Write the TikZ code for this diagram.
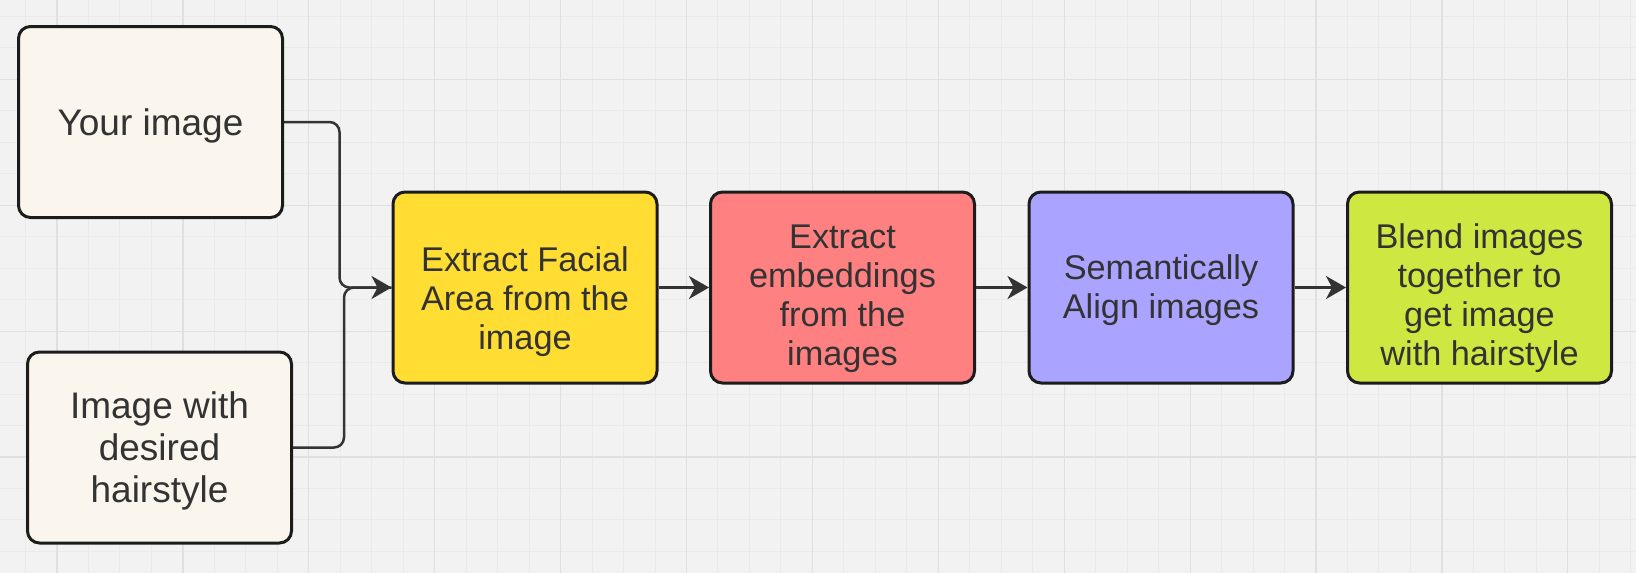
\documentclass[tikz,border=0pt]{standalone}
\usepackage{fontspec}
\setmainfont{Liberation Sans}
\usetikzlibrary{arrows.meta}

\definecolor{paper}{HTML}{F2F2F2}
\definecolor{gridminor}{HTML}{EAEAEA}
\definecolor{gridmajor}{HTML}{E0E0E0}
\definecolor{cream}{HTML}{FAF6EE}
\definecolor{sun}{HTML}{FFDD33}
\definecolor{salmon}{HTML}{FF8080}
\definecolor{lilac}{HTML}{AAA3FF}
\definecolor{lime}{HTML}{CEE741}
\definecolor{ink}{HTML}{333333}
\definecolor{rim}{HTML}{1C1C1C}

\tikzset{
  box/.style={draw=rim, line width=3pt, rounded corners=12pt,
    minimum width=264pt, minimum height=191pt, inner sep=0pt,
    align=center, text=ink, text depth=10pt, font=\fontsize{34.3}{39}\selectfont},
  inbox/.style={box, fill=cream, font=\fontsize{37}{42}\selectfont},
  link/.style={draw=ink, line width=2.5pt},
  tip/.style={-{Stealth[length=20pt,width=23pt,inset=6pt]}}
}

\begin{document}
\begin{tikzpicture}[x=1pt,y=-1pt]
	% Canvas
	\useasboundingbox[fill=paper] (0,0) rectangle (1636,573);
	\foreach \i in {-1,...,50}
		\draw[gridminor, line width=1pt] ({57+31.475*\i},0) -- ({57+31.475*\i},573);
	\foreach \j in {-2,...,15}
		\draw[gridminor, line width=1pt] (0,{79.3+31.475*\j}) -- (1636,{79.3+31.475*\j});
	\foreach \i in {0,4,...,48}
		\draw[gridmajor, line width=1.2pt] ({57+31.475*\i},0) -- ({57+31.475*\i},573);
	\foreach \j in {0,4,...,12}
		\draw[gridmajor, line width=1.2pt] (0,{79.3+31.475*\j}) -- (1636,{79.3+31.475*\j});

	% Inputs
	\node[inbox, text height=36pt] (you) at (150.5,122) {Your image};
	\node[inbox, text height=120pt] (hair) at (159.5,447.5) {Image with\\desired\\hairstyle};

	% Pipeline
	\node[box, fill=sun, text height=134pt] (facial) at (525,287.5) {Extract Facial\\Area from the\\image};
	\node[box, fill=salmon, text height=165pt] (embed) at (842.5,287.5) {Extract\\embeddings\\from the\\images};
	\node[box, fill=lilac, text height=72pt] (align) at (1161,287.5) {Semantically\\Align images};
	\node[box, fill=lime, text height=165pt] (blend) at (1479.5,287.5) {Blend images\\together to\\get image\\with hairstyle};

	% Connectors
	\draw[link, rounded corners=10pt] (hair.east) -- ++(51,0) |- (facial.west);
	\draw[link, tip, rounded corners=10pt] (you.east) -- ++(55.5,0) |- (facial.west);
	\draw[link, tip] (facial) -- (embed);
	\draw[link, tip] (embed) -- (align);
	\draw[link, tip] (align) -- (blend);
\end{tikzpicture}
\end{document}
